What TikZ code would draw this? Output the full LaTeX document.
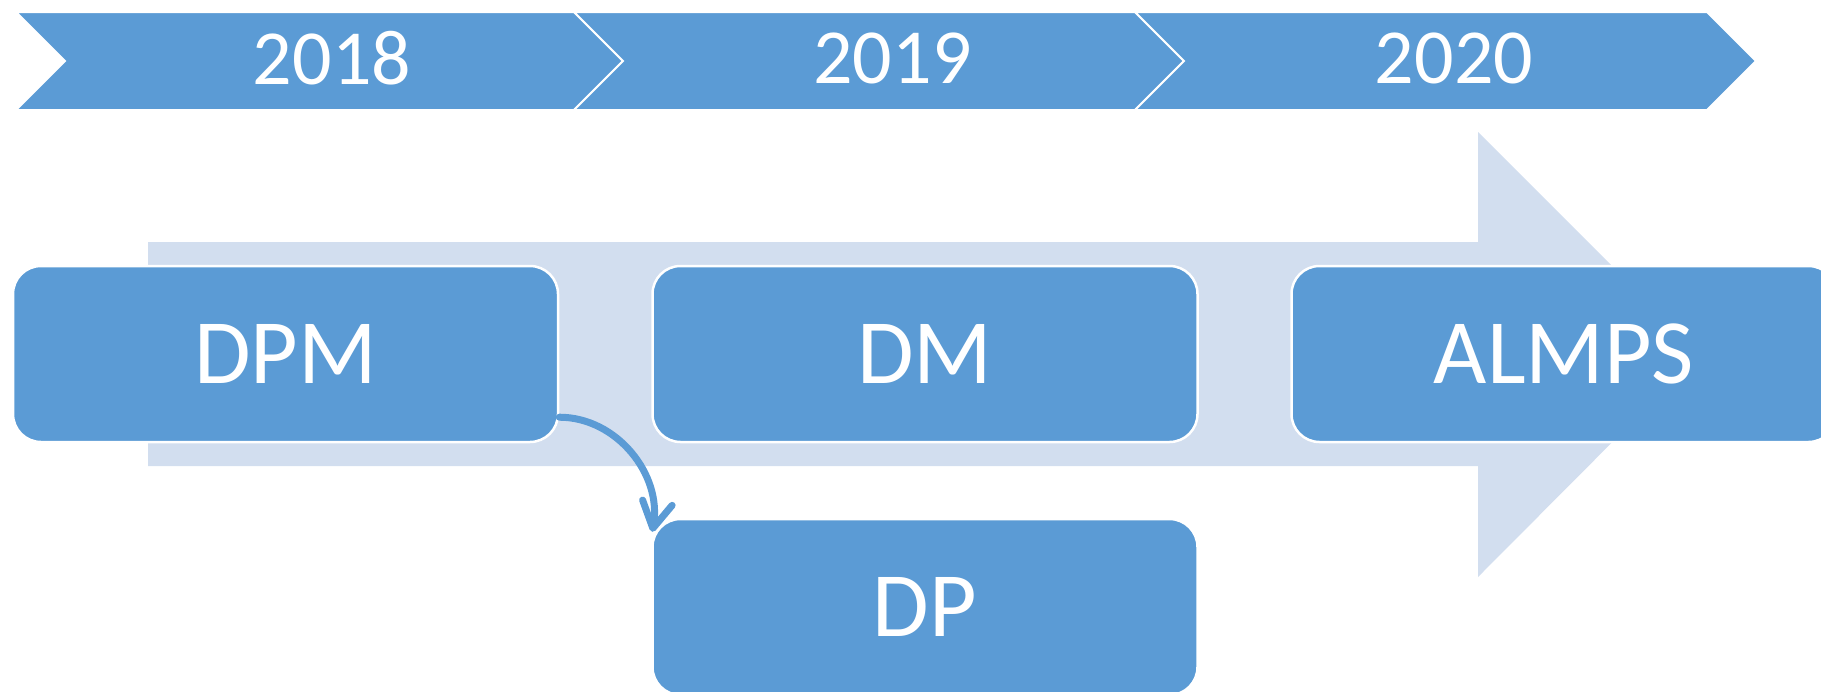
\documentclass[tikz,border=0pt]{standalone}
\usepackage{fontspec}
\setmainfont{Carlito}
\usetikzlibrary{arrows.meta}
\definecolor{accent}{HTML}{5B9BD5}
\definecolor{tint}{HTML}{D2DEEF}
\begin{document}
\begin{tikzpicture}[x=0.5pt,y=-0.5pt,
  stage/.style={draw=white, line width=1pt, fill=accent},
  card/.style={draw=white, line width=1.25pt, fill=accent, rounded corners=14pt,
    minimum width=272.5pt, minimum height=88pt, inner sep=0pt, text=white,
    font=\fontsize{46}{50}\selectfont},
  year/.style={text=white, inner sep=0pt, font=\fontsize{39}{42}\selectfont},
  link/.style={draw=accent, line width=3.5pt, line cap=round,
    -{Straight Barb[length=13pt,width=15pt,round]}}
]
\useasboundingbox (0,0) rectangle (1821,691);
\clip (0,0) rectangle (1821,691);

% broad timeline arrow in the background
\fill[tint] (148,242) -- (1478,242) -- (1478,132) -- (1700,354) -- (1478,577)
  -- (1478,466) -- (148,466) -- cycle;

% year chevrons
\path[stage] (16,12) -- (574,12) -- (623,61) -- (574,110) -- (16,110) -- (65,61) -- cycle;
\path[stage] (574,12) -- (1135,12) -- (1184,61) -- (1135,110) -- (574,110) -- (623,61) -- cycle;
\path[stage] (1135,12) -- (1707,12) -- (1756,61) -- (1707,110) -- (1135,110) -- (1184,61) -- cycle;
\node[year] (y2018) at (332,58.5) {2018};
\node[year] (y2019) at (892.5,58.5) {2019};
\node[year] (y2020) at (1454,58.5) {2020};

% project boxes
\node[card] (dpm) at (285.5,354) {DPM};
\node[card] (dm) at (925,354) {DM};
\node[card] (almps) at (1564,354) {ALMPS};
\node[card] (dp) at (925,607) {DP};

% DPM leads to DP
\draw[link] (dpm.-13) to[out=0, in=80] ([shift={(1,14)}]dp.north west);
\end{tikzpicture}
\end{document}
